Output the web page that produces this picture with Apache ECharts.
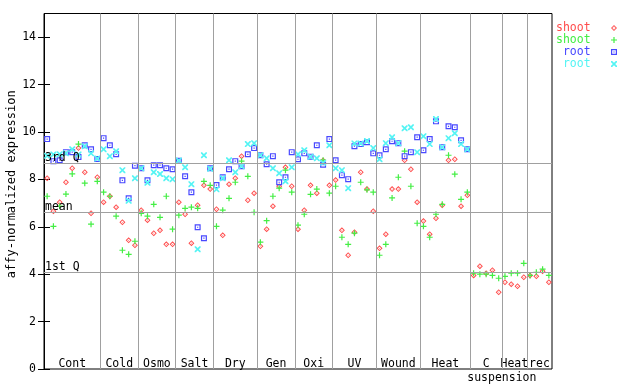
<!DOCTYPE html>
<html><head><meta charset="utf-8">
<script src="https://cdn.jsdelivr.net/npm/echarts@6/dist/echarts.min.js"></script>
<style>html,body{margin:0;padding:0;background:#fff}#c{width:640px;height:384px}</style>
</head><body><div id="c"></div>
<script>
// ---- data ----
const groupNames = ['Cont','Cold','Osmo','Salt','Dry','Gen','Oxi','UV','Wound','Heat','C','Heat','rec'];
const groupSizes = [9,6,6,6,7,6,6,7,7,8,5,4,4];
const subLabel = 'suspension';
const yTicks = [0,2,4,6,8,10,12,14];
const refNames = ['3rd Q','mean','1st Q'];
const refValues = [8.68, 6.61, 4.08];
const legendNames = ['shoot','shoot','root','root'];

const shootRed = [8.05,6.66,7.04,7.88,8.47,9.32,8.30,6.57,8.09,
  7.04,7.29,6.83,6.19,5.43,5.22,
  6.70,6.28,5.73,5.85,5.26,5.26,
  7.04,6.53,5.31,6.91,7.75,7.59,
  6.74,5.64,7.80,8.05,8.98,7.12,7.42,
  5.18,5.90,6.87,7.71,8.51,7.71,
  5.90,6.70,7.75,7.42,8.80,7.75,
  7.97,5.85,4.80,5.77,8.30,7.59,6.66,
  5.09,5.69,7.59,7.59,8.81,8.43,7.04,
  6.24,5.69,6.36,6.91,8.81,8.85,6.87,7.33,
  3.95,4.34,4.04,4.17,3.24,
  3.66,3.58,3.49,3.87,
  3.95,3.91,4.12,3.66];
const shootGreen = [7.29,6.02,6.87,7.38,8.23,9.49,7.84,6.11,7.92,
  7.46,7.29,6.45,5.01,4.84,5.39,
  6.57,6.45,6.95,6.40,7.29,5.90,
  6.49,6.78,6.83,6.78,7.92,7.75,
  6.02,6.70,7.20,7.88,8.77,8.13,6.61,
  5.35,6.26,7.29,7.63,8.39,7.46,
  6.07,6.53,7.37,7.59,8.81,7.42,
  7.71,5.56,5.26,5.73,7.88,7.56,7.46,
  4.80,5.26,7.22,8.09,9.19,7.71,6.15,
  6.02,5.56,6.53,6.95,9.02,8.22,7.16,7.46,
  4.04,4.00,4.00,3.95,3.83,
  3.91,4.04,4.04,4.46,
  3.95,4.08,4.21,3.95];
const rootBlue = [9.70,8.77,8.81,9.15,9.15,8.94,9.44,9.27,8.86,
  9.74,9.44,9.06,7.96,7.20,8.58,
  8.47,7.96,8.60,8.60,8.47,8.43,
  8.79,8.13,7.46,5.98,5.52,8.47,
  7.76,8.09,8.43,8.77,8.56,9.06,9.32,
  9.02,8.64,8.98,7.88,8.09,9.15,
  8.85,9.10,8.96,9.44,8.62,9.70,
  8.81,8.18,8.01,9.40,9.49,9.57,9.10,
  9.02,9.27,9.61,9.53,8.98,9.15,9.78,
  9.23,9.70,10.45,9.36,10.24,10.20,9.65,9.27];
const rootCyan = [9.00,9.05,9.06,9.10,9.27,9.05,9.40,9.10,8.88,
  9.27,8.98,9.19,8.39,7.10,8.05,
  8.47,7.86,8.30,8.23,8.05,8.01,
  8.80,8.51,7.80,5.05,9.02,8.45,
  7.58,8.05,8.81,8.30,8.56,9.49,9.53,
  9.02,8.89,8.47,8.26,7.92,8.51,
  9.06,9.23,8.96,8.89,8.70,9.44,
  8.47,8.39,7.63,9.52,9.52,9.62,9.32,
  8.85,9.53,9.78,9.53,10.16,10.20,9.15,
  9.82,9.49,10.55,9.36,9.74,9.95,9.49,9.27];

// ---- layout helpers ----
const FONT = 'DejaVu Sans Mono';
const nSamples = groupSizes.reduce((a,b)=>a+b,0);
const bounds = []; const centers = [];
let acc = 0;
groupSizes.forEach((s,i)=>{ centers.push(acc + s/2); acc += s; if (i < groupSizes.length-1) bounds.push(acc); });
const labelMap = {};
centers.forEach((c,i)=>{ labelMap[c.toFixed(2)] = groupNames[i]; });
const subPos = bounds[10];

const SYM = {
  diamond: 'path://M2.5,0L5,2.5L2.5,5L0,2.5Z M2.5,1.1L1.1,2.5L2.5,3.9L3.9,2.5Z M2.2,2.2H2.8V2.8H2.2Z',
  plus: 'path://M2,0H3V5H2Z M0,2H5V3H0Z',
  square: 'path://M0,0H5V5H0Z M1,1V4H4V1Z M2,2H3V3H2Z',
  cross: 'path://M0,0H1L5,4V5H4L0,1Z M4,0H5V1L1,5H0V4Z'
};
const COLORS = ['#ff4c4c','#44ee44','#4848ff','#55f4f4'];
const seriesNames = ['shoot','shoot ','root','root '];
const seriesData = [shootRed, shootGreen, rootBlue, rootCyan];
const seriesSym = [SYM.diamond, SYM.plus, SYM.square, SYM.cross];

const chart = echarts.init(document.getElementById('c'), null, {renderer:'canvas'});

const scatterSeries = seriesData.map((d,k)=>({
  type:'scatter', name: seriesNames[k], xAxisIndex:0, yAxisIndex:0,
  symbol: seriesSym[k], symbolSize: 6, z: 3,
  itemStyle:{color: COLORS[k], opacity:1},
  emphasis:{disabled:true},
  data: d.map((v,i)=>[i+0.5, v])
}));

const lineColor = '#a0a0a0';
const markData = [];
bounds.forEach(b=>markData.push({xAxis:b, label:{show:false}}));
refValues.forEach((v,i)=>markData.push({yAxis:v, name:refNames[i],
  label:{show:true, position:'insideStartTop', formatter:'{b}', distance:[1,-1],
    color:'#000', fontFamily:FONT, fontSize:11.5}}));

const option = {
  animation:false,
  backgroundColor:'#fff',
  grid:{left:44, right:88, top:13.5, bottom:15, show:true, borderColor:'#000', borderWidth:1,
    backgroundColor:'transparent', containLabel:false, outerBoundsMode:'none'},
  xAxis:[
    {type:'value', min:0, max:nSamples, show:false},
    {type:'value', min:0, max:nSamples, position:'bottom', axisLine:{show:false}, axisTick:{show:false}, splitLine:{show:false},
      axisLabel:{inside:true, margin:-1, customValues: centers, color:'#000', fontFamily:FONT, fontSize:11.5,
        formatter: v => labelMap[(+v).toFixed(2)] || ''}},
    {type:'value', min:0, max:nSamples, position:'bottom', axisLine:{show:false}, axisTick:{show:false}, splitLine:{show:false},
      axisLabel:{inside:false, margin:3, customValues:[subPos], color:'#000', fontFamily:FONT, fontSize:11.5,
        formatter: () => subLabel}}
  ],
  yAxis:[
    {type:'value', min:0, max:15, interval:2, position:'left',
      name:'affy-normalized expression', nameLocation:'middle', nameRotate:90, nameGap:26, nameMoveOverlap:false,
      nameTextStyle:{color:'#000', fontFamily:FONT, fontSize:12, padding:[0,0,0,14]},
      axisLine:{show:true, lineStyle:{color:'#000'}},
      axisTick:{show:true, inside:true, length:6, lineStyle:{color:'#000'}, customValues: yTicks},
      axisLabel:{show:true, margin:8, color:'#000', fontFamily:FONT, fontSize:11.5, customValues: yTicks},
      splitLine:{show:false}},
    {type:'value', min:0, max:15, interval:2, position:'right',
      axisLine:{show:true, lineStyle:{color:'#000'}},
      axisTick:{show:true, inside:true, length:6, lineStyle:{color:'#000'}, customValues: yTicks},
      axisLabel:{show:false}, splitLine:{show:false}}
  ],
  legend:[
    {orient:'vertical', left:545, top:17, itemWidth:1, itemHeight:1, itemGap:0, selectedMode:false,
      itemStyle:{opacity:0},
      textStyle:{fontFamily:FONT, fontSize:11.5, lineHeight:11},
      formatter: n => { const k = seriesNames.indexOf(n); return (legendNames[k].length<5?' ':'') + legendNames[k]; },
      data: seriesNames.map((n,k)=>({name:n, textStyle:{color:COLORS[k]}}))},
    {orient:'vertical', left:606, top:17, itemWidth:6, itemHeight:6, itemGap:0, selectedMode:false,
      textStyle:{fontFamily:FONT, fontSize:11.5, lineHeight:11},
      formatter: () => ' ',
      data: seriesNames.map((n,k)=>({name:n, icon: seriesSym[k], itemStyle:{color:COLORS[k], opacity:1}}))}
  ],
  series:[
    {type:'scatter', name:'_ref', data:[], z:1, silent:true, xAxisIndex:0, yAxisIndex:0,
      markLine:{silent:true, symbol:'none', animation:false,
        lineStyle:{color:lineColor, type:'solid', width:1},
        emphasis:{disabled:true},
        data: markData}}
  ].concat(scatterSeries)
};
chart.setOption(option);
</script></body></html>
